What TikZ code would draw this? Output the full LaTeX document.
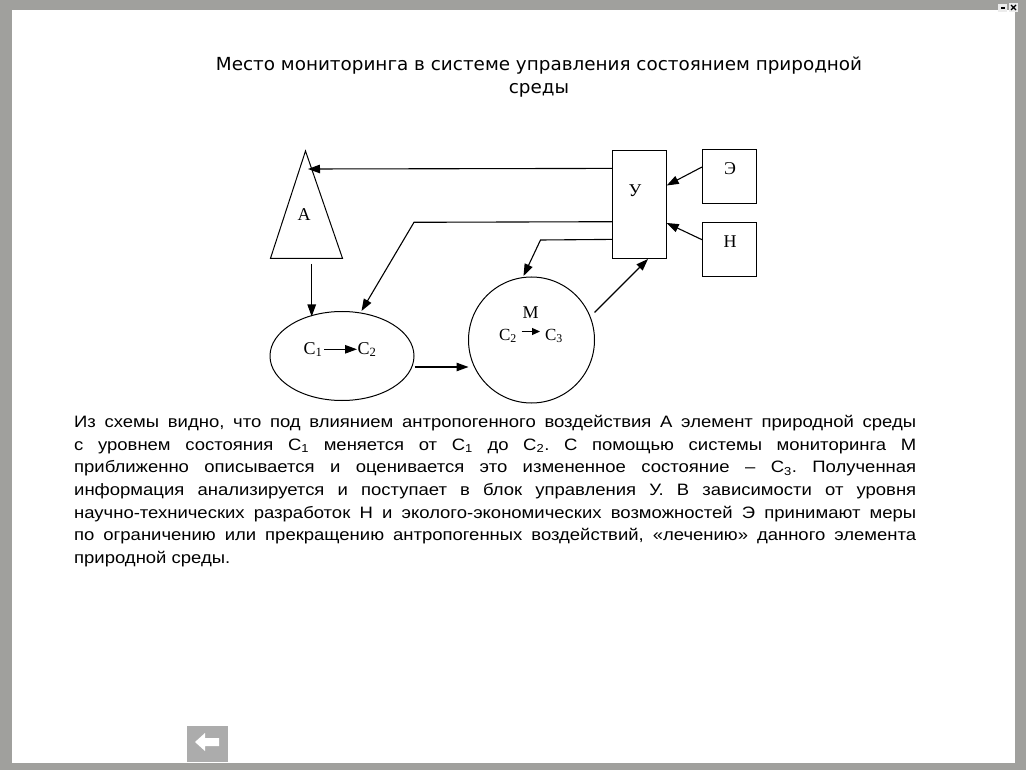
\documentclass[tikz,border=0pt]{standalone}
\usepackage{fontspec}
\setmainfont{Liberation Serif}
\newfontfamily\arialf[FakeStretch=1.12]{Liberation Sans}
\newfontfamily\titlef[FakeStretch=1.02]{DejaVu Sans}
\usetikzlibrary{arrows.meta,shapes.geometric}
\definecolor{framegray}{RGB}{160,160,157}
\definecolor{btngray}{RGB}{172,172,172}
\begin{document}
\frenchspacing
\begin{tikzpicture}[x=1pt,y=-1pt,
  arr/.style={-{Triangle[length=12pt,width=8.5pt]}, line width=1.1pt},
  smallarr/.style={-{Triangle[length=8pt,width=7pt]}, line width=1.1pt},
  box/.style={draw, line width=1pt, inner sep=0pt},
  lab/.style={font=\fontsize{18}{18}\selectfont, inner sep=0pt},
  slab/.style={font=\fontsize{17}{17}\selectfont, inner sep=0pt}]
\useasboundingbox (0,0) rectangle (1026,770);
\fill[framegray] (0,0) rectangle (1026,770);
\fill[white] (12,10) rectangle (1015,763);
% window icons
\fill[gray!15] (998,4) rectangle (1007,12);
\fill[black] (1000.5,7.5) rectangle (1004.5,9.5);
\fill[gray!15] (1009,3) rectangle (1018,12);
\draw[line width=1.2pt] (1011,5) -- (1016,10) (1011,10) -- (1016,5);
% title
\node[font=\titlef\fontsize{18}{22.5}\selectfont, align=center, inner sep=0pt] (title) at (539,77)
  {Место мониторинга в системе управления состоянием природной\\среды};
% triangle A
\coordinate (Aapex) at (305.5,151);
\coordinate (Abl) at (270.5,258.3);
\coordinate (Abr) at (342.5,258.3);
\draw[line width=1pt] (Aapex) -- (Abr) -- (Abl) -- cycle;
\node[lab] (A) at (304,215) {A};
% control block and inputs
\node[box, minimum width=54pt, minimum height=108pt] (U) at (639.5,204.4) {};
\node[lab] (Ulab) at (635,191) {У};
\node[box, minimum width=54pt, minimum height=54pt] (E) at (729.5,177) {};
\node[lab] (Elab) at (730,169) {Э};
\node[box, minimum width=54pt, minimum height=54pt] (N) at (729.5,249.5) {};
\node[lab] (Nlab) at (730,241.5) {Н};
% ellipse and circle
\node[draw, ellipse, line width=1pt, minimum width=144pt, minimum height=89pt, inner sep=0pt] (C) at (342,356) {};
\node[draw, circle, line width=1pt, minimum size=126pt, inner sep=0pt] (M) at (531.5,340) {};
% contents of ellipse
\node[lab, anchor=base] (c1) at (313,354) {C\textsubscript{1}};
\node[lab, anchor=base] (c2) at (367,354) {C\textsubscript{2}};
\coordinate (c1e) at (324,349.3);
\coordinate (c2w) at (357,349.3);
\draw[arr] (c1e) -- (c2w);
% contents of circle
\node[lab] (Mlab) at (530.5,313) {M};
\node[slab, anchor=base] (m2) at (508,340) {C\textsubscript{2}};
\node[slab, anchor=base] (m3) at (554,340) {C\textsubscript{3}};
\coordinate (m2e) at (521.5,331.5);
\coordinate (m3w) at (540,331.5);
\draw[smallarr] (m2e) -- (m3w);
% connectors
\coordinate (Atip) at (308,169);
\draw[arr] ([yshift=-18.5pt]U.north west) -- (Atip);
\coordinate (Abot) at (311.7,264);
\coordinate (Ctop1) at (311.7,316.5);
\draw[arr] (Abot) -- (Ctop1);
\coordinate (bend1) at (414,222.3);
\coordinate (Ctop2) at (361.5,311);
\draw[arr] ([yshift=-71.8pt]U.north west) -- (bend1) -- (Ctop2);
\coordinate (bend2) at (540.5,240);
\coordinate (Mtop) at (523.5,276);
\draw[arr] ([yshift=-89.5pt]U.north west) -- (bend2) -- (Mtop);
\coordinate (Cright) at (414.5,367);
\coordinate (Mleft) at (468.5,367);
\draw[arr] (Cright) -- (Mleft);
\coordinate (Mout) at (594.5,312.5);
\coordinate (Ubot) at (648,259);
\draw[arr] (Mout) -- (Ubot);
\coordinate (Uin1) at (666.7,185.5);
\draw[arr] ([yshift=-17.5pt]E.north west) -- (Uin1);
\coordinate (Uin2) at (666.7,223);
\draw[arr] ([yshift=-17.7pt]N.north west) -- (Uin2);
% body text
\node[anchor=north west, inner sep=0pt, text width=842pt, align=justify,
  font=\arialf\fontsize{16.5}{22.7}\selectfont] (body) at (74,415)
{Из схемы видно, что под влиянием антропогенного воздействия А элемент природной среды\linebreak
с уровнем состояния С\textsubscript{1} меняется от С\textsubscript{1} до С\textsubscript{2}. С помощью системы мониторинга М\linebreak
приближенно описывается и оценивается это измененное состояние – С\textsubscript{3}. Полученная\linebreak
информация анализируется и поступает в блок управления У. В зависимости от уровня\linebreak
научно-технических разработок Н и эколого-экономических возможностей Э принимают меры\linebreak
по ограничению или прекращению антропогенных воздействий, «лечению» данного элемента\linebreak
природной среды.};
% back button
\node[fill=btngray, minimum width=41pt, minimum height=36pt, inner sep=0pt] (back) at (207.5,744) {};
\fill[white] (195,742) -- (205,733) -- (205,738) -- (219,738) -- (219,746) -- (205,746) -- (205,751) -- cycle;
\end{tikzpicture}
\end{document}
